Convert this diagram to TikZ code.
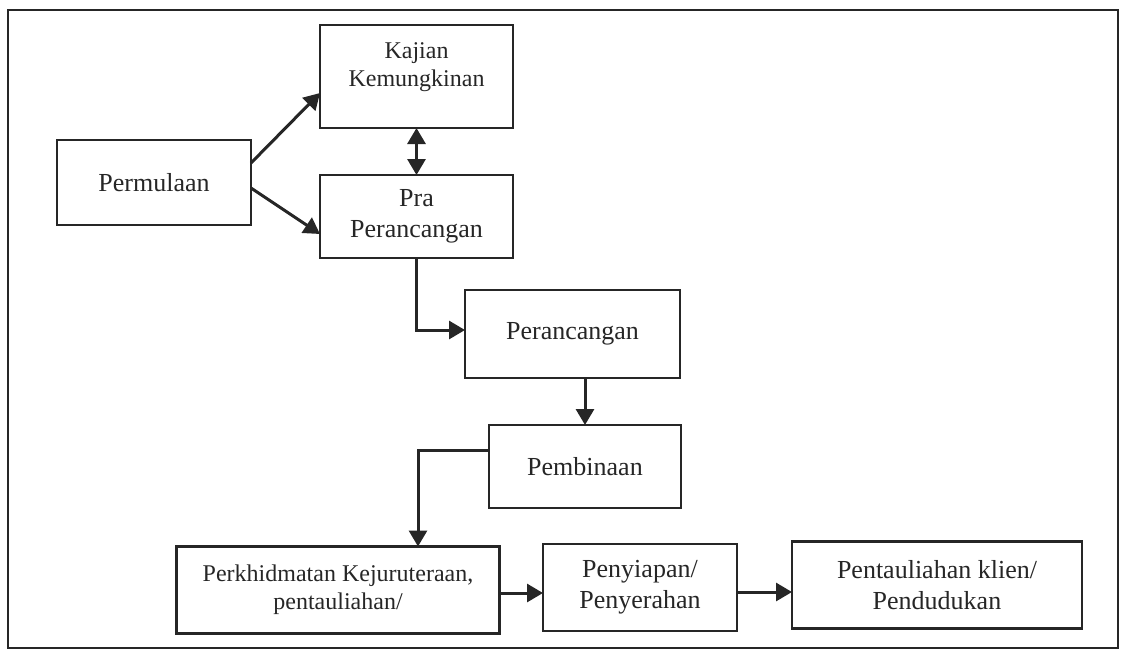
\documentclass[tikz,border=0pt]{standalone}
\usepackage{fontspec}
\setmainfont{Liberation Serif}
\usetikzlibrary{arrows.meta,calc}
\definecolor{ink}{HTML}{262626}
\begin{document}
\begin{tikzpicture}[x=1pt,y=-1pt,
  box/.style={draw=ink,line width=2.5pt,rectangle,outer sep=0pt,inner sep=0pt,align=center,text=ink,
    font=\fontsize{26}{31}\selectfont},
  smallbox/.style={box,font=\fontsize{24}{28}\selectfont},
  tip/.style={Triangle[length=16pt,width=18pt]},
  conn/.style={draw=ink,line width=3pt,-{Triangle[length=16pt,width=18pt]}},
  dconn/.style={draw=ink,line width=3pt,{Triangle[length=16pt,width=18pt]}-{Triangle[length=16pt,width=18pt]}}]
\useasboundingbox (0,0) rectangle (1128,657);
\draw[ink,line width=2.2pt] (8,10) rectangle (1118,648);
\node[smallbox,minimum width=193pt,minimum height=103pt] (kaj) at (416.5,76.5) {Kajian\\Kemungkinan\\[-12pt]\strut};
\node[box,minimum width=193pt,minimum height=83pt] (pra) at (416.5,216.5) {Pra\\Perancangan};
\node[box,minimum width=194pt,minimum height=85pt] (perm) at (154,182.5) {Permulaan};
\node[box,minimum width=215pt,minimum height=88pt] (peranc) at (572.5,334) {Perancangan};
\node[box,minimum width=192pt,minimum height=83pt] (pemb) at (585,466.5) {Pembinaan};
\node[smallbox,minimum width=323pt,minimum height=87pt] (perkh) at (338,590) {Perkhidmatan Kejuruteraan,\\pentauliahan/};
\node[box,minimum width=194pt,minimum height=87pt] (peny) at (640,587.5) {Penyiapan/\\Penyerahan};
\node[box,minimum width=290pt,minimum height=87pt] (pent) at (937,585) {Pentauliahan klien/\\Pendudukan};
% connectors
\draw[conn] ($(perm.east)+(0,-19.5)$) -- ($(kaj.west)+(0,16.5)$);
\draw[conn] ($(perm.east)+(0,5.5)$) -- ($(pra.west)+(0,17.5)$);
\draw[dconn] (kaj.south) -- (pra.north);
\draw[conn] (pra.south) |- ($(peranc.west)+(0,-4)$);
\draw[conn] (pemb.north |- peranc.south) -- (pemb.north);
\draw[conn] ($(pemb.west)+(0,-16.5)$) -| ($(perkh.north)+(80,0)$);
\draw[conn] ($(perkh.east)+(0,3)$) coordinate (s1) -- (s1 -| peny.west);
\draw[conn] ($(peny.east)+(0,4.5)$) coordinate (s2) -- (s2 -| pent.west);
\end{tikzpicture}
\end{document}
